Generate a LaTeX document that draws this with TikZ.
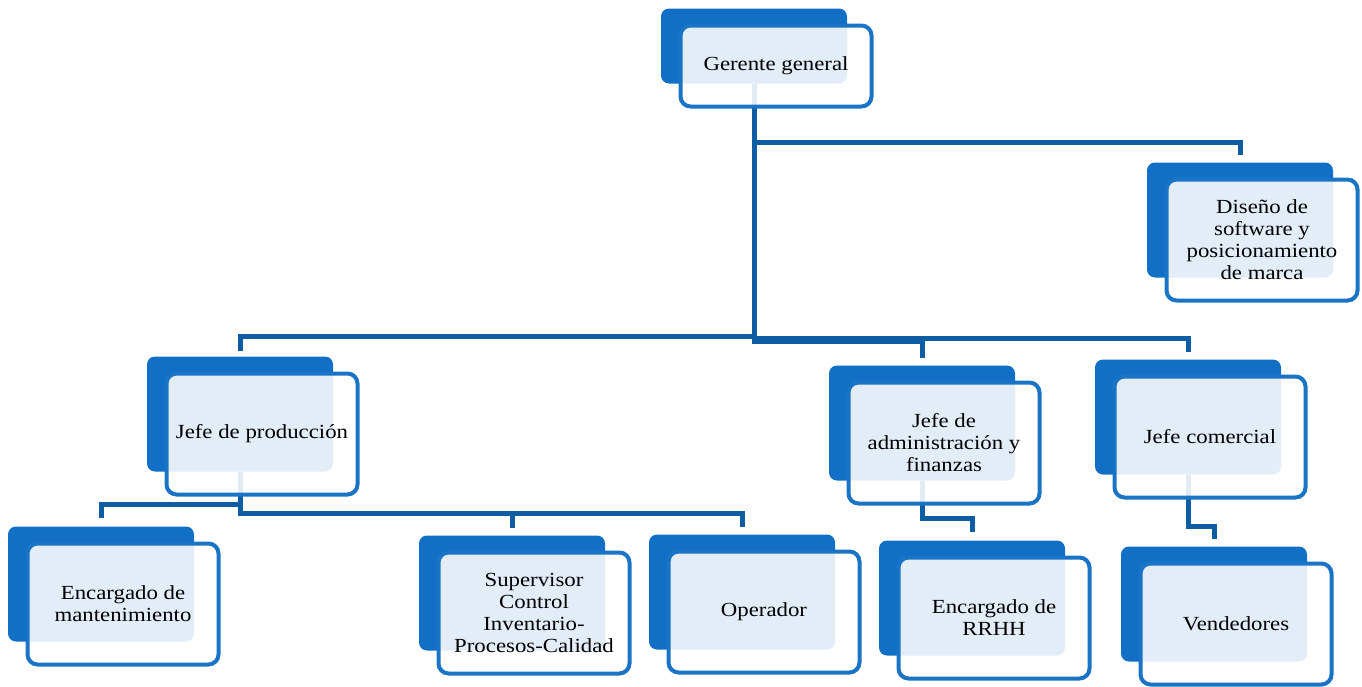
\documentclass[tikz,border=0pt]{standalone}
\usepackage{fontspec}
\setmainfont{Liberation Serif}[FakeStretch=1.14]
\usetikzlibrary{calc,backgrounds}
\definecolor{boxblue}{RGB}{17,112,198}
\definecolor{frameblue}{RGB}{26,116,198}
\definecolor{lineblue}{RGB}{14,93,163}

\begin{document}
\begin{tikzpicture}[x=1pt,y=-1pt]

\tikzset{backbox/.style={fill=boxblue,rounded corners=8pt,minimum width=186pt,inner sep=0pt},
frontbox/.style={draw=frameblue,line width=4pt,fill=white,fill opacity=0.88,draw opacity=1,text opacity=1,rounded corners=10pt,minimum width=191pt,inner sep=0pt,align=center,font=\fontsize{20}{22}\selectfont},
conn/.style={draw=lineblue,line width=5pt}}

\useasboundingbox (0,0) rectangle (1362,686);

% Boxes: dark back card, light front card
\foreach \n/\x/\y/\h/\t in {gg/754/46/75/{Gerente general},
  dis/1240/220/115/{Diseño de\\software y\\posicionamiento\\de marca},
  jp/240/414/115/{Jefe de producción},
  ja/922/423/115/{Jefe de\\administración y\\finanzas},
  jc/1188/417/115/{Jefe comercial},
  em/101/584/115/{Encargado de\\mantenimiento},
  sup/512/593/115/{Supervisor\\Control\\Inventario-\\Procesos-Calidad},
  op/742/592/115/{Operador},
  rh/972/598/115/{Encargado de\\RRHH},
  ven/1214/604/115/{Vendedores}}{
  \node[backbox,minimum height=\h] (\n-b) at (\x,\y) {};
  \node[frontbox,minimum height=\h+6] (\n) at ($(\n-b)+(22,20)$) {\t};
}

% Connectors
\begin{scope}[on background layer]
\draw[conn] (gg-b.south) -- ++(0,260);
\draw[conn] (gg-b.south) -- ++(0,59) -| ($(dis-b.north)+(0,-7)$);
\draw[conn] (gg-b.south) -- ++(0,253) -| ($(jp-b.north)+(0,-5)$);
\draw[conn] (gg-b.south) -- ++(0,258) -| ($(ja-b.north)+(0,-7)$);
\draw[conn] (gg-b.south) -- ++(0,255) -| ($(jc-b.north)+(0,-7)$);

\draw[conn] (jp-b.south) -- ++(0,33) -| ($(em-b.north)+(0,-8)$);
\foreach \c in {sup,op} \draw[conn] (jp-b.south) -- ++(0,42) -| ($(\c-b.north)+(0,-7)$);

\draw[conn] (ja-b.south) -- ++(0,38) -| ($(rh-b.north)+(0,-8)$);
\draw[conn] (jc-b.south) -- ++(0,52) -| ($(ven-b.north)+(0,-7)$);
\end{scope}

\end{tikzpicture}
\end{document}
